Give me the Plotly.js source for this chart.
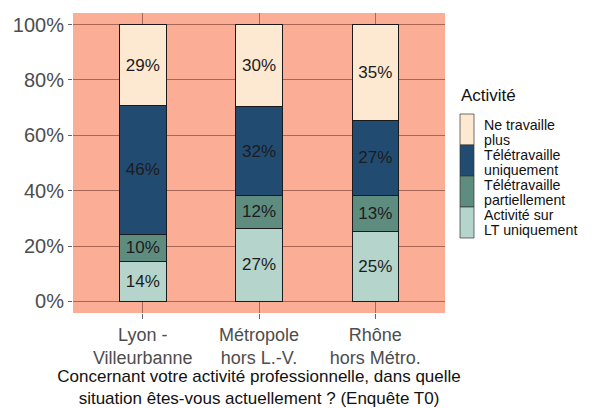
<!DOCTYPE html>
<html>
<head>
<meta charset="utf-8">
<script src="https://cdn.plot.ly/plotly-3.0.1.min.js"></script>
<style>html,body{margin:0;padding:0;background:#fff;}#chart{width:592px;height:408px;}</style>
</head>
<body>
<div id="chart"></div>
<script>
// ---- data ----
const categories = ["Lyon -<br>Villeurbanne", "Métropole<br>hors L.-V.", "Rhône<br>hors Métro."];
const seriesNames = ["Activité sur LT uniquement", "Télétravaille partiellement", "Télétravaille uniquement", "Ne travaille plus"];
const ltUniquement = [14.4, 26.5, 25.2];
const teletravPartiel = [9.9, 11.8, 13.2];
const teletravUniquement = [46.4, 32.0, 27.0];
const neTravaillePlus = [29.3, 29.7, 34.6];
const ltLabels = ["14%", "27%", "25%"];
const partielLabels = ["10%", "12%", "13%"];
const uniquementLabels = ["46%", "32%", "27%"];
const nePlusLabels = ["29%", "30%", "35%"];
const yTickVals = [0, 20, 40, 60, 80, 100];
const yTickText = ["0%", "20%", "40%", "60%", "80%", "100%"];
const legendTitle = "Activité";
const legendLines = [["Ne travaille", "plus"], ["Télétravaille", "uniquement"], ["Télétravaille", "partiellement"], ["Activité sur", "LT uniquement"]];
const xTitle = "Concernant votre activité professionnelle, dans quelle<br>situation êtes-vous actuellement ? (Enquête T0)";

// ---- styles ----
const colors = ["#B5D5CC", "#5E8C7E", "#224B71", "#FDE8D1"];
const legendColors = [colors[3], colors[2], colors[1], colors[0]];
const FONT = "Liberation Sans, Arial, sans-serif";

const W = 592, H = 408;
const M = {l: 73, r: 147, t: 13, b: 95};
const px2x = px => (px - M.l) / (W - M.l - M.r);
const px2y = py => (H - M.b - py) / (H - M.t - M.b);

const seriesValues = [ltUniquement, teletravPartiel, teletravUniquement, neTravaillePlus];
const seriesLabels = [ltLabels, partielLabels, uniquementLabels, nePlusLabels];

const traces = seriesValues.map((vals, i) => ({
  type: "bar",
  name: seriesNames[i],
  x: categories,
  y: vals,
  width: 0.4,
  text: seriesLabels[i],
  textposition: "inside",
  insidetextanchor: "middle",
  constraintext: "none",
  textfont: {family: FONT, size: 17, color: "#1c1c1c"},
  marker: {color: colors[i], line: {color: "#1a1a1a", width: 1}},
  hoverinfo: "skip",
  showlegend: false
}));

const shapes = [];
const annotations = [];
annotations.push({
  xref: "paper", yref: "paper", x: px2x(459), y: px2y(96),
  xanchor: "left", yanchor: "middle", showarrow: false,
  text: legendTitle, font: {family: FONT, size: 17, color: "#111"}
});
legendLines.forEach((lines, i) => {
  const top = 114 + 31 * i;
  shapes.push({
    type: "rect", xref: "paper", yref: "paper",
    x0: px2x(460), x1: px2x(474), y0: px2y(top), y1: px2y(top + 31),
    fillcolor: legendColors[i], line: {color: "#333", width: 0.7}, layer: "above"
  });
  lines.forEach((t, j) => {
    const mid = 124.5 + 15.1 * (2 * i + j);
    annotations.push({
      xref: "paper", yref: "paper", x: px2x(483), y: px2y(mid),
      xanchor: "left", yanchor: "middle", showarrow: false, borderpad: 0,
      text: t, font: {family: FONT, size: 14.2, color: "#111"}
    });
  });
});

const layout = {
  width: W, height: H,
  margin: M,
  paper_bgcolor: "#ffffff",
  plot_bgcolor: "#FCAD96",
  barmode: "stack",
  showlegend: false,
  font: {family: FONT},
  xaxis: {
    type: "category",
    range: [-0.6, 2.6],
    showgrid: true, gridcolor: "#A86656", gridwidth: 1,
    ticks: "outside", ticklen: 5, tickcolor: "#666", tickwidth: 1,
    tickfont: {family: FONT, size: 18, color: "#4D4D4D"},
    showline: false, zeroline: false,
    title: {text: xTitle, font: {family: FONT, size: 17, color: "#111"}, standoff: 2}
  },
  yaxis: {
    range: [-4.2, 104.2],
    tickvals: yTickVals, ticktext: yTickText,
    showgrid: true, gridcolor: "#A86656", gridwidth: 1,
    ticks: "outside", ticklen: 4, tickcolor: "#666", tickwidth: 1,
    tickfont: {family: FONT, size: 20, color: "#4D4D4D"},
    showline: false, zeroline: false
  },
  shapes: shapes,
  annotations: annotations
};

Plotly.newPlot("chart", traces, layout, {staticPlot: true, displayModeBar: false});
</script>
</body>
</html>
